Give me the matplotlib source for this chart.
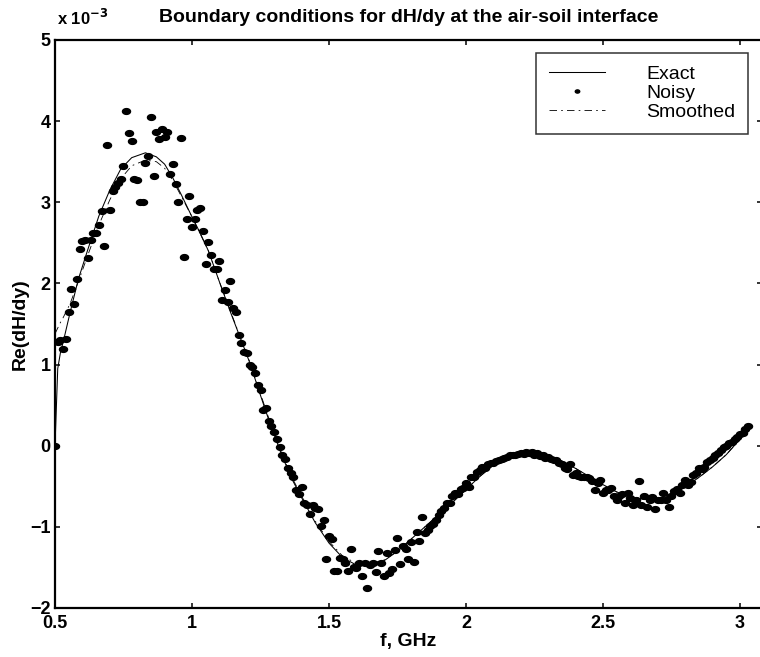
import numpy as np
import matplotlib
matplotlib.use('Agg')
import matplotlib.pyplot as plt
from matplotlib.path import Path

# exact curve (x1e-3)
f_exact = [0.5, 0.51, 0.52, 0.53, 0.555, 0.585, 0.62, 0.66, 0.7, 0.74, 0.78, 0.83, 0.87, 0.9,
           0.93, 0.96, 1.0, 1.03, 1.06, 1.1, 1.14, 1.175, 1.21, 1.25, 1.28, 1.32, 1.36, 1.4,
           1.45, 1.5, 1.55, 1.6, 1.64, 1.7, 1.75, 1.8, 1.85, 1.9, 1.95, 2.0, 2.05, 2.1, 2.15,
           2.2, 2.25, 2.3, 2.35, 2.4, 2.45, 2.5, 2.55, 2.6, 2.65, 2.7, 2.75, 2.8, 2.85, 2.9,
           2.95, 3.0, 3.03]
v_exact = [0, 0.95, 1.15, 1.28, 1.64, 2.05, 2.42, 2.83, 3.15, 3.41, 3.55, 3.61, 3.56, 3.47,
           3.3, 3.1, 2.82, 2.62, 2.4, 2.02, 1.65, 1.34, 1.03, 0.62, 0.32, -0.05, -0.38, -0.64,
           -0.95, -1.2, -1.38, -1.47, -1.48, -1.42, -1.3, -1.15, -1.0, -0.85, -0.7, -0.54,
           -0.38, -0.24, -0.15, -0.1, -0.09, -0.12, -0.19, -0.28, -0.38, -0.48, -0.57, -0.63,
           -0.66, -0.66, -0.61, -0.51, -0.39, -0.26, -0.11, 0.08, 0.23]

# smoothed curve, same frequencies as exact
v_smooth = [1.38, 1.45, 1.52, 1.58, 1.75, 2.02, 2.35, 2.72, 3.03, 3.29, 3.45, 3.52, 3.5, 3.42,
            3.27, 3.08, 2.82, 2.61, 2.4, 2.02, 1.66, 1.35, 1.04, 0.64, 0.34, -0.03, -0.36, -0.62,
            -0.93, -1.18, -1.36, -1.45, -1.46, -1.41, -1.3, -1.15, -1.0, -0.85, -0.7, -0.54,
            -0.38, -0.24, -0.15, -0.1, -0.09, -0.12, -0.19, -0.28, -0.38, -0.48, -0.57, -0.63,
            -0.66, -0.66, -0.61, -0.51, -0.39, -0.26, -0.11, 0.08, 0.23]

# noisy samples, one every 0.01 GHz from 0.5 to 3.03
f_noisy = np.linspace(0.5, 3.03, 254)
v_noisy = [
    0.00, 1.28, 1.30, 1.19, 1.32, 1.65, 1.93, 1.75, 2.06, 2.43,
    2.52, 2.53, 2.31, 2.54, 2.62, 2.62, 2.72, 2.89, 2.46, 3.70,
    2.90, 3.14, 3.19, 3.24, 3.29, 3.45, 4.13, 3.85, 3.76, 3.29,
    3.27, 3.00, 3.00, 3.49, 3.57, 4.05, 3.33, 3.87, 3.78, 3.90,
    3.81, 3.87, 3.35, 3.47, 3.23, 3.00, 3.79, 2.33, 2.80, 3.08,
    2.69, 2.79, 2.91, 2.93, 2.64, 2.24, 2.51, 2.35, 2.18, 2.18,
    2.28, 1.80, 1.92, 1.77, 2.03, 1.70, 1.65, 1.36, 1.27, 1.15,
    1.14, 1.00, 0.97, 0.90, 0.75, 0.69, 0.44, 0.46, 0.31, 0.24,
    0.17, 0.08, -0.02, -0.11, -0.16, -0.27, -0.34, -0.39, -0.54, -0.60,
    -0.51, -0.71, -0.73, -0.84, -0.73, -0.77, -0.78, -0.99, -0.91, -1.40,
    -1.11, -1.15, -1.54, -1.55, -1.38, -1.40, -1.45, -1.54, -1.27, -1.49,
    -1.51, -1.45, -1.60, -1.44, -1.75, -1.47, -1.45, -1.56, -1.30, -1.45,
    -1.60, -1.32, -1.57, -1.52, -1.28, -1.14, -1.46, -1.24, -1.27, -1.40,
    -1.19, -1.43, -1.06, -1.17, -0.88, -1.08, -1.04, -0.99, -0.96, -0.92,
    -0.86, -0.81, -0.77, -0.71, -0.71, -0.62, -0.58, -0.59, -0.53, -0.52,
    -0.46, -0.51, -0.39, -0.39, -0.32, -0.30, -0.26, -0.28, -0.23, -0.21,
    -0.21, -0.19, -0.17, -0.16, -0.15, -0.14, -0.12, -0.12, -0.11, -0.10,
    -0.09, -0.10, -0.08, -0.09, -0.08, -0.11, -0.09, -0.13, -0.12, -0.15,
    -0.14, -0.16, -0.17, -0.17, -0.21, -0.23, -0.27, -0.29, -0.23, -0.36,
    -0.34, -0.37, -0.38, -0.39, -0.38, -0.40, -0.44, -0.54, -0.46, -0.42,
    -0.58, -0.54, -0.54, -0.52, -0.62, -0.67, -0.62, -0.60, -0.71, -0.58,
    -0.64, -0.73, -0.67, -0.44, -0.73, -0.62, -0.75, -0.67, -0.63, -0.78,
    -0.67, -0.67, -0.58, -0.67, -0.75, -0.62, -0.56, -0.53, -0.58, -0.49,
    -0.42, -0.49, -0.45, -0.36, -0.34, -0.27, -0.29, -0.26, -0.20, -0.17,
    -0.15, -0.12, -0.09, -0.05, -0.02, 0.00, 0.03, 0.05, 0.08, 0.11,
    0.14, 0.16, 0.20, 0.24]

x_ticks = [0.5, 1, 1.5, 2, 2.5, 3]
x_ticklabels = ['0.5', '1', '1.5', '2', '2.5', '3']
y_ticks = [-2, -1, 0, 1, 2, 3, 4, 5]

plt.rcParams['font.family'] = ['Liberation Sans', 'DejaVu Sans']

# matlab draws its dots a bit wider than tall
t = np.linspace(0, 2 * np.pi, 40)
dot = Path(np.column_stack([np.cos(t), 0.72 * np.sin(t)]), closed=True)

fig = plt.figure(figsize=(7.6, 6.57), dpi=100)
ax = fig.add_axes([55 / 760, 49 / 657, 707 / 760, 568 / 657])

ax.plot(f_exact, v_exact, '-', color='black', lw=0.75, label='Exact')
ax.plot(f_noisy, v_noisy, linestyle='none', marker=dot, markersize=5.8,
        color='black', label='Noisy')
ax.plot(f_exact, v_smooth, color='black', lw=0.6, dashes=(9, 5, 2, 5), label='Smoothed')

ax.set_xlim(0.5, 0.5 + 707 / 274)
ax.set_ylim(-2, 5)
ax.set_xticks(x_ticks)
ax.set_xticklabels(x_ticklabels)
ax.set_yticks(y_ticks)
ax.tick_params(direction='in', length=3.8, width=1.1, top=True, right=True,
               labelsize=13, pad=3)
ax.tick_params(axis='x', pad=5)
for lab in ax.get_xticklabels() + ax.get_yticklabels():
    lab.set_fontweight('bold')
for side in ['left', 'bottom', 'top']:
    ax.spines[side].set_linewidth(1.6)
ax.spines['right'].set_linewidth(0.9)

ax.set_xlabel('f, GHz', fontsize=14, fontweight='bold', labelpad=1)
ax.set_ylabel('Re(dH/dy)', fontsize=14, fontweight='bold', labelpad=1)
ax.set_title('Boundary conditions for dH/dy at the air-soil interface',
             fontsize=14, fontweight='bold', pad=13)
ax.text(0.003, 1 + 15 / 568, r'x 10$^{\mathbf{-3}}$', transform=ax.transAxes, fontsize=12,
        fontweight='bold', ha='left', va='baseline')

leg = ax.legend(loc='upper right', bbox_to_anchor=((748 - 55) / 707, (608 - 52.7) / 568),
                frameon=True, fancybox=False, edgecolor='black', fontsize=14,
                handlelength=2.9, handletextpad=2.1, borderpad=0.65, labelspacing=0.08,
                borderaxespad=0)
leg.get_frame().set_linewidth(1.1)
leg.legend_handles[1].set_markersize(3.2)

plt.savefig('out.png', dpi=100)
